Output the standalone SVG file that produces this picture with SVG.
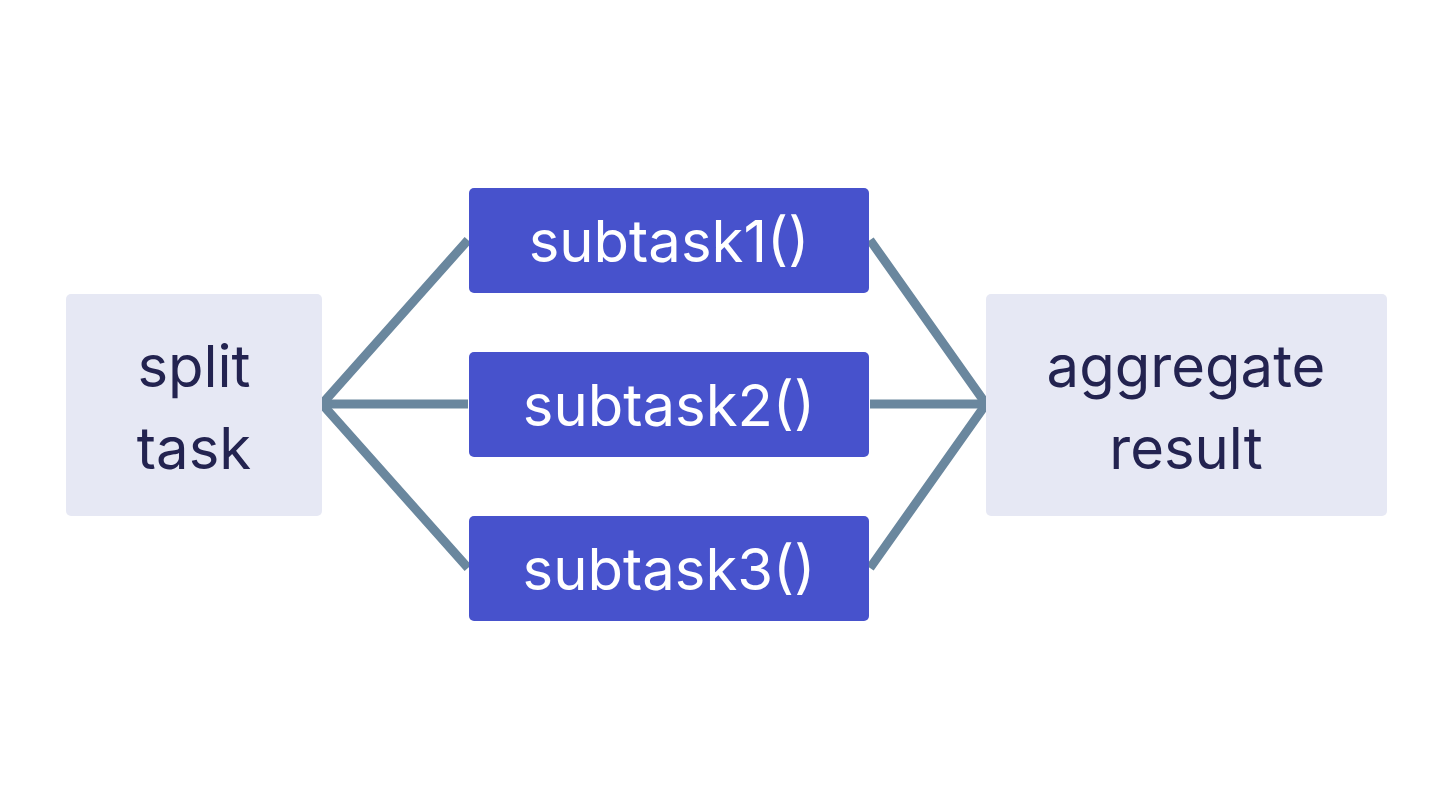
<svg xmlns="http://www.w3.org/2000/svg" width="1440" height="810" viewBox="0 0 1440 810">
<style>
.side{fill:#e6e8f4}
.sub{fill:#4752cc}
.st{font-family:Inter,"Liberation Sans",sans-serif;font-size:58px;fill:#232350;text-anchor:middle}
.wt{font-family:Inter,"Liberation Sans",sans-serif;font-size:58px;fill:#ffffff;text-anchor:middle}
.c{stroke:#6a879e;stroke-width:9;fill:none}
</style>
<rect width="1440" height="810" fill="#ffffff"/>
<g id="connectors">
<path class="c" d="M468 240 L322 404 L468 568"/>
<path class="c" d="M322 404 H468"/>
<path class="c" d="M870 240 L986 404 L870 568"/>
<path class="c" d="M870 404 H986"/>
</g>
<g id="split"><rect class="side" x="66" y="294" width="256" height="222" rx="5"/><text class="st" x="194" y="387">split</text><text class="st" x="194" y="469">task</text></g>
<g id="subtask1"><rect class="sub" x="469" y="188" width="400" height="105" rx="5"/><text class="wt" x="669" y="262">subtask1()</text></g>
<g id="subtask2"><rect class="sub" x="469" y="352" width="400" height="105" rx="5"/><text class="wt" x="669" y="426">subtask2()</text></g>
<g id="subtask3"><rect class="sub" x="469" y="516" width="400" height="105" rx="5"/><text class="wt" x="669" y="590">subtask3()</text></g>
<g id="aggregate"><rect class="side" x="986" y="294" width="401" height="222" rx="5"/><text class="st" x="1186" y="387">aggregate</text><text class="st" x="1186" y="469">result</text></g>
</svg>
